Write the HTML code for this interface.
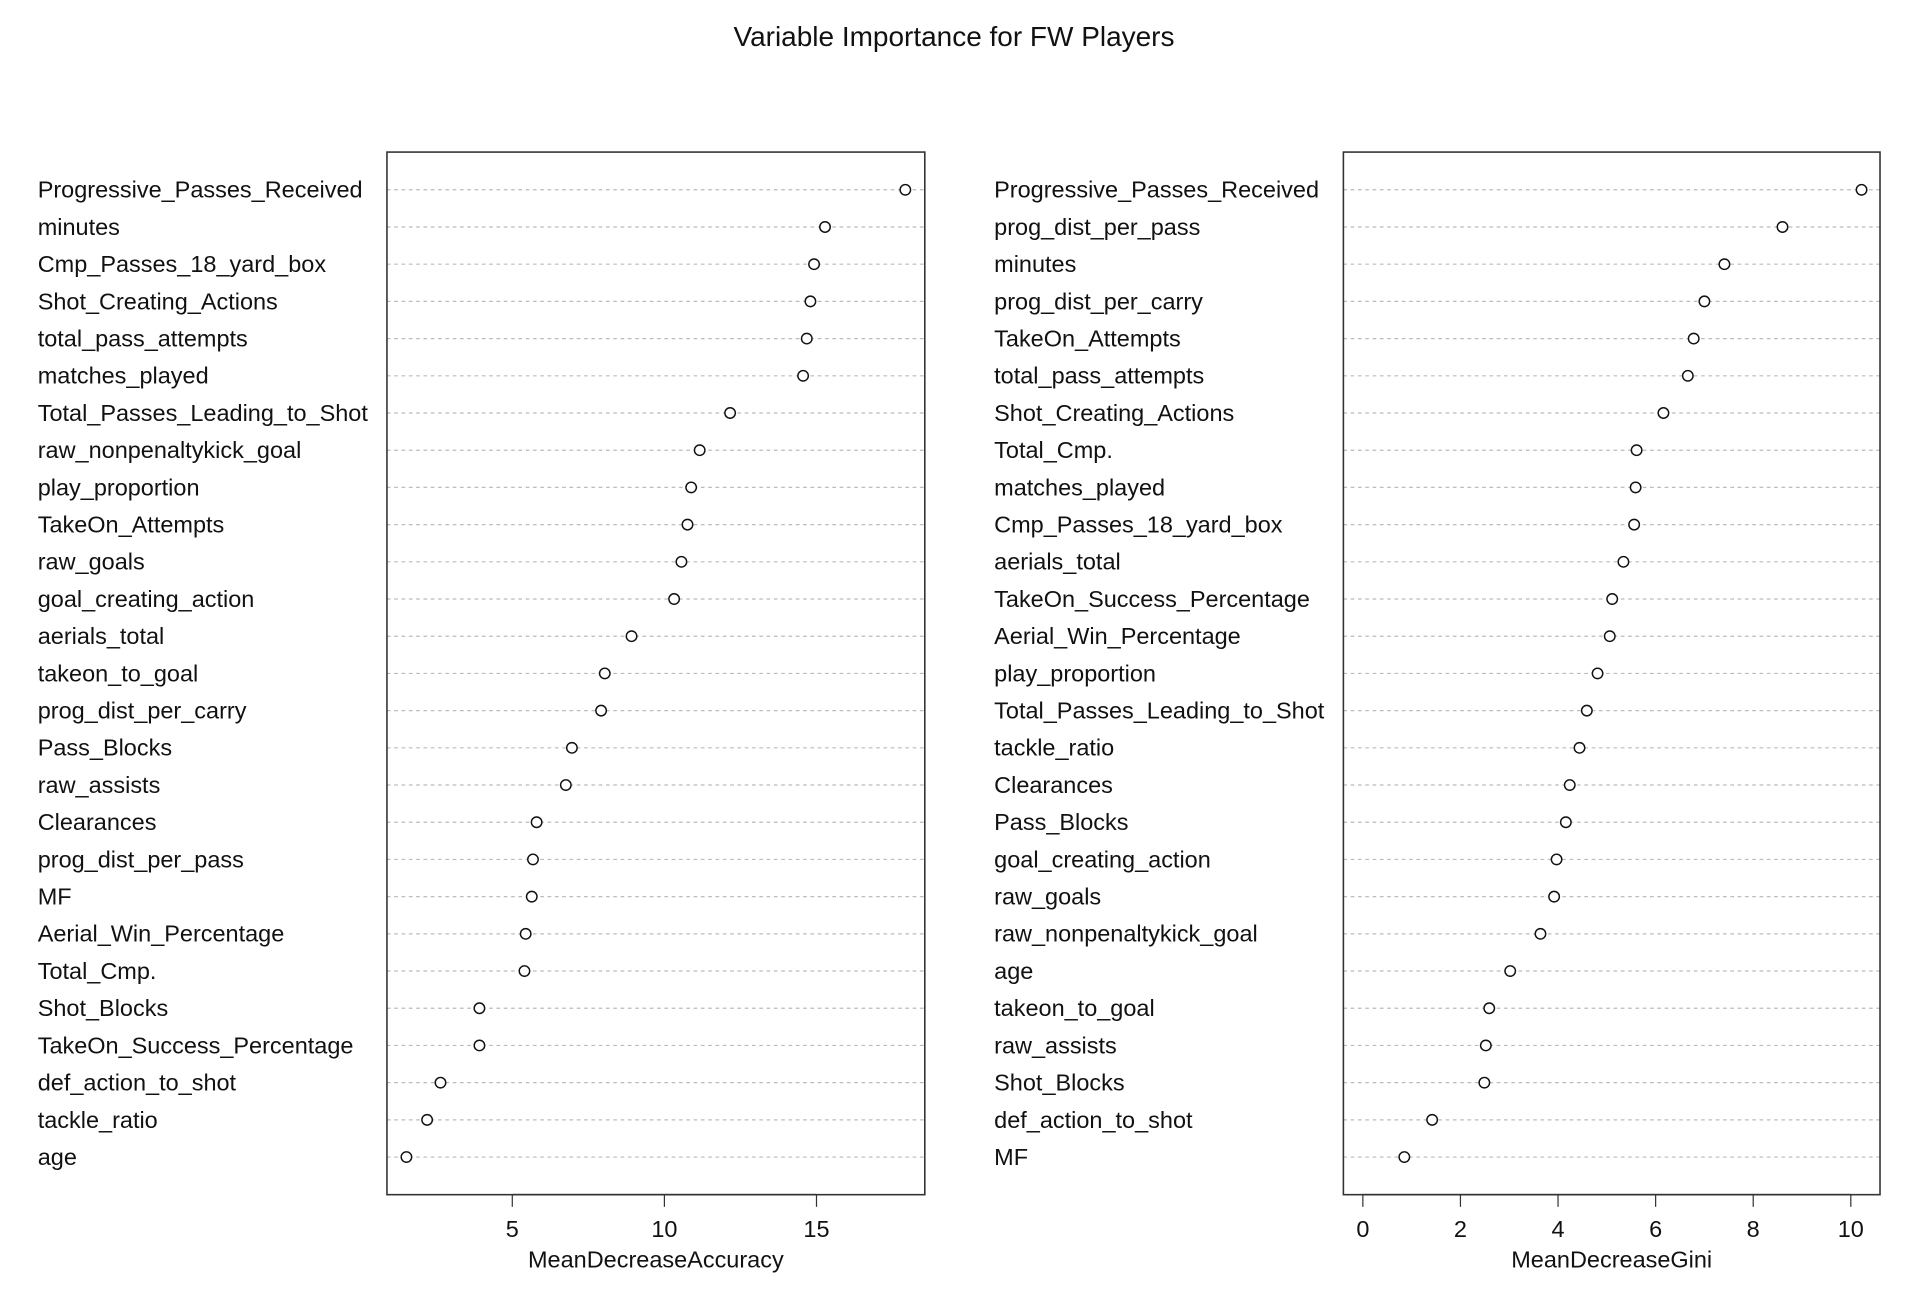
<!DOCTYPE html>
<html><head><meta charset="utf-8"><style>
html,body{margin:0;padding:0;background:#fff;}
svg{display:block;font-family:"Liberation Sans",Arial,sans-serif;}
</style></head><body>
<svg id="chart" width="1908" height="1292" viewBox="0 0 1568 1062" preserveAspectRatio="none" xmlns="http://www.w3.org/2000/svg">
<rect width="1568" height="1062" fill="#fff"/>
<text x="784" y="38" text-anchor="middle" font-size="23" fill="#111">Variable Importance for FW Players</text>
<g id="left"></g><g id="right"></g>
</svg>
<script>
const leftLabels=["Progressive_Passes_Received","minutes","Cmp_Passes_18_yard_box","Shot_Creating_Actions","total_pass_attempts","matches_played","Total_Passes_Leading_to_Shot","raw_nonpenaltykick_goal","play_proportion","TakeOn_Attempts","raw_goals","goal_creating_action","aerials_total","takeon_to_goal","prog_dist_per_carry","Pass_Blocks","raw_assists","Clearances","prog_dist_per_pass","MF","Aerial_Win_Percentage","Total_Cmp.","Shot_Blocks","TakeOn_Success_Percentage","def_action_to_shot","tackle_ratio","age"];
const leftValues=[17.92,15.28,14.92,14.8,14.68,14.56,12.16,11.16,10.88,10.76,10.56,10.32,8.92,8.04,7.92,6.96,6.76,5.8,5.68,5.64,5.44,5.4,3.92,3.92,2.64,2.2,1.52];
const leftTicks=[5,10,15];
const rightLabels=["Progressive_Passes_Received","prog_dist_per_pass","minutes","prog_dist_per_carry","TakeOn_Attempts","total_pass_attempts","Shot_Creating_Actions","Total_Cmp.","matches_played","Cmp_Passes_18_yard_box","aerials_total","TakeOn_Success_Percentage","Aerial_Win_Percentage","play_proportion","Total_Passes_Leading_to_Shot","tackle_ratio","Clearances","Pass_Blocks","goal_creating_action","raw_goals","raw_nonpenaltykick_goal","age","takeon_to_goal","raw_assists","Shot_Blocks","def_action_to_shot","MF"];
const rightValues=[10.22,8.6,7.41,7.0,6.78,6.66,6.16,5.61,5.59,5.56,5.34,5.11,5.06,4.81,4.59,4.44,4.24,4.16,3.97,3.92,3.64,3.02,2.59,2.52,2.49,1.42,0.85];
const rightTicks=[0,2,4,6,8,10];
const NS="http://www.w3.org/2000/svg";
function mk(parent,tag,attrs){const e=document.createElementNS(NS,tag);for(const k in attrs)e.setAttribute(k,attrs[k]);parent.appendChild(e);return e;}
function panel(gid,prefix,labels,values,ticks,bl,br,pxA,vA,pxB,vB,labelX,title){
  const g=document.getElementById(gid);
  const sx=v=>pxA+(v-vA)*(pxB-pxA)/(vB-vA);
  const top=125,bot=982,yFirst=156,step=30.58;
  const sy=i=>yFirst+i*step;
  labels.forEach((lab,i)=>{
    const y=sy(i);
    const ln=mk(g,'line',{x1:bl,x2:br,y1:y,y2:y,stroke:'#bbb','stroke-width':1,'stroke-dasharray':'3,3'});
    
    
    const t=mk(g,'text',{x:labelX,y:y+6.5,'font-size':19.3,fill:'#111'});
    t.textContent=lab;
    
    
    const c=mk(g,'circle',{cx:sx(values[i]),cy:y,r:4.3,fill:'#fff',stroke:'#111','stroke-width':1.2});
    
    
  });
  const box=mk(g,'rect',{x:bl,y:top,width:br-bl,height:bot-top,fill:'none',stroke:'#333','stroke-width':1.3});
  
  
  const ax=mk(g,'line',{x1:sx(ticks[0]),x2:sx(ticks[ticks.length-1]),y1:bot,y2:bot,stroke:'#333','stroke-width':1.3});
  
  
  ticks.forEach(v=>{
    const tl=mk(g,'line',{x1:sx(v),x2:sx(v),y1:bot,y2:bot+10,stroke:'#333','stroke-width':1});
    
    
    const tt=mk(g,'text',{x:sx(v),y:bot+35,'text-anchor':'middle','font-size':19.3,fill:'#111'});
    tt.textContent=String(v);
    
    
  });
  const at=mk(g,'text',{x:(bl+br)/2,y:1042,'text-anchor':'middle','font-size':19.3,fill:'#111'});
  at.textContent=title;
  
  
}
panel('left','accuracy',leftLabels,leftValues,leftTicks,318,760,421,5,671,15,31,'MeanDecreaseAccuracy');
panel('right','gini',rightLabels,rightValues,rightTicks,1104,1545,1120,0,1521,10,817,'MeanDecreaseGini');
</script>
</body></html>
